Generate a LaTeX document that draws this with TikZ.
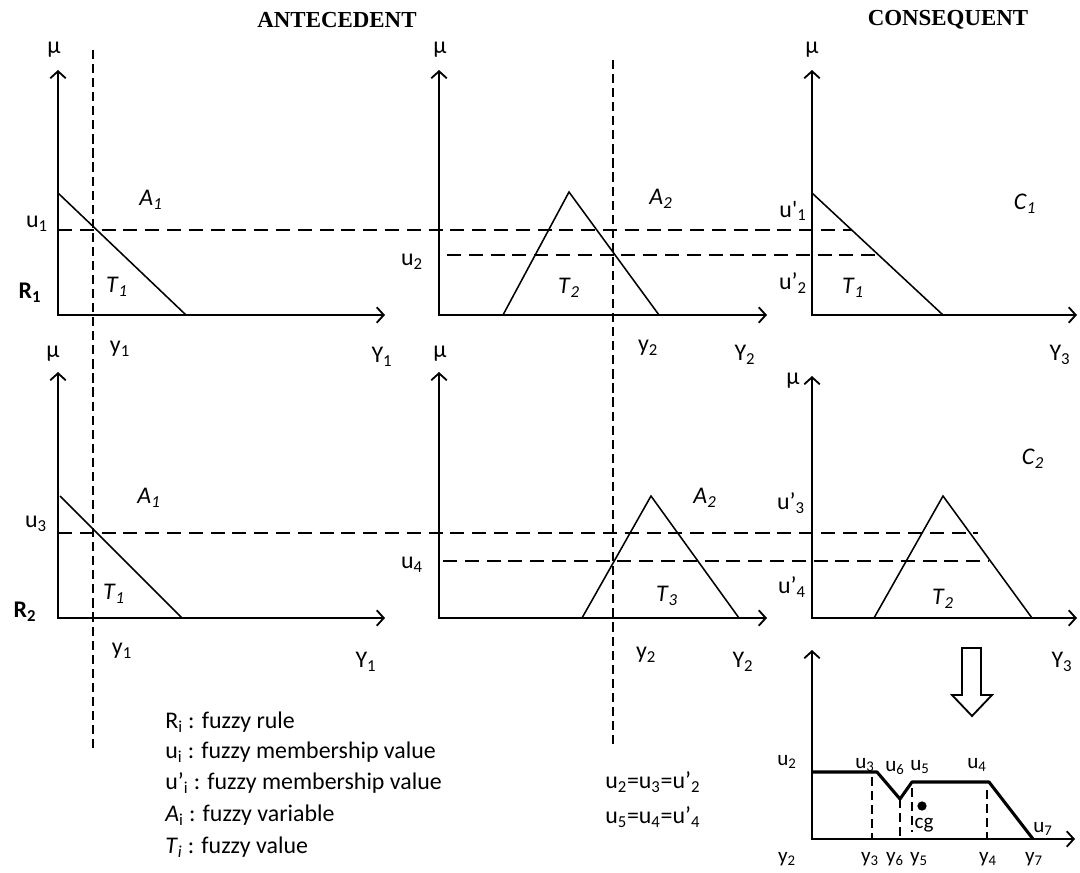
\documentclass[tikz,border=0pt]{standalone}
\usepackage{fontspec}
\setmainfont{Carlito}
\newfontfamily\headfont{Liberation Serif}
\usetikzlibrary{arrows.meta}

\newcommand{\sub}[2]{#1\textsubscript{#2}}

\begin{document}
\begin{tikzpicture}[x=0.025cm, y=-0.025cm, >={Straight Barb[length=5pt,width=11pt]},
    font=\fontsize{17}{20}\selectfont,
    axis/.style={<->, line width=1.3pt},
    memb/.style={line width=1.1pt},
    level/.style={line width=1.3pt, dash pattern=on 10pt off 5.5pt},
    cut/.style={line width=1pt, dash pattern=on 6.5pt off 3.5pt},
    head/.style={font=\headfont\bfseries\fontsize{16.3}{18}\selectfont},
    small/.style={font=\fontsize{15}{17}\selectfont, inner sep=0pt},
    legend/.style={anchor=west, inner sep=0pt}]
    \useasboundingbox (0,0) rectangle (1080,873);

    \node[head] (ante) at (337,20) {ANTECEDENT};
    \node[head] (cons) at (948,20) {CONSEQUENT};

    % rule 1
    \draw[axis] (58,70) -- (58,315) -- (385,315);
    \draw[memb] (58,193) -- (186,315);
    \draw[axis] (439,70) -- (439,315) -- (767,315);
    \draw[memb] (503,315) -- (569,192) -- (659,315);
    \draw[axis] (812,70) -- (812,315) -- (1077,315);
    \draw[memb] (812,193) -- (943,315);

    \node (mu1) at (54,50) {μ};
    \node (u1) at (37,224) {\sub{u}{1}};
    \node (a1) at (151,200) {\textit{A}\textsubscript{\textit{1}}};
    \node (t1) at (117,287) {\textit{T}\textsubscript{\textit{1}}};
    \node (r1) at (30,293) {\textbf{\sub{R}{1}}};
    \node (y1) at (120,349) {\sub{y}{1}};
    \node (bigy1) at (382,357) {\sub{Y}{1}};

    \node (mu2) at (440,50) {μ};
    \node (u2) at (412,262) {\sub{u}{2}};
    \node (a2) at (661,199) {\textit{A}\textsubscript{\textit{2}}};
    \node (t2) at (569,288) {\textit{T}\textsubscript{\textit{2}}};
    \node (y2) at (648,348) {\sub{y}{2}};
    \node (bigy2) at (745,355) {\sub{Y}{2}};

    \node (mu3) at (812,50) {μ};
    \node (c1) at (1025,204) {\textit{C}\textsubscript{\textit{1}}};
    \node (up1) at (793,211) {u\textquotesingle\textsubscript{1}};
    \node (up2) at (793,283) {u’\textsubscript{2}};
    \node (t1c) at (853,288) {\textit{T}\textsubscript{\textit{1}}};
    \node (bigy3) at (1060,355) {\sub{Y}{3}};

    % rule 2
    \draw[axis] (58,372) -- (58,618) -- (385,618);
    \draw[memb] (60,496) -- (182,618);
    \draw[axis] (439,372) -- (439,618) -- (767,618);
    \draw[memb] (582,618) -- (651,496) -- (739,618);
    \draw[axis] (812,376) -- (812,618) -- (1077,618);
    \draw[memb] (874,618) -- (943,496) -- (1032,618);

    \node (mu4) at (53,354) {μ};
    \node (u3) at (36,524) {\sub{u}{3}};
    \node (a1b) at (149,498) {\textit{A}\textsubscript{\textit{1}}};
    \node (t1b) at (114,594) {\textit{T}\textsubscript{\textit{1}}};
    \node (r2) at (25,612) {\textbf{\sub{R}{2}}};
    \node (y1b) at (122,651) {\sub{y}{1}};
    \node (bigy1b) at (366,662) {\sub{Y}{1}};

    \node (mu5) at (440,354) {μ};
    \node (u4) at (412,565) {\sub{u}{4}};
    \node (a2b) at (705,498) {\textit{A}\textsubscript{\textit{2}}};
    \node (t3) at (667,596) {\textit{T}\textsubscript{\textit{3}}};
    \node (y2b) at (646,655) {\sub{y}{2}};
    \node (bigy2b) at (743,662) {\sub{Y}{2}};

    \node (mu6) at (793,381) {μ};
    \node (c2) at (1033,459) {\textit{C}\textsubscript{\textit{2}}};
    \node (up3) at (791,503) {u’\textsubscript{3}};
    \node (up4) at (792,587) {u’\textsubscript{4}};
    \node (t2c) at (943,599) {\textit{T}\textsubscript{\textit{2}}};
    \node (bigy3b) at (1062,662) {\sub{Y}{3}};

    % cut levels
    \draw[level] (58,230) -- (852,230);
    \draw[level] (447,255) -- (878,255);
    \draw[level] (58,533) -- (978,533);
    \draw[level] (443,561) -- (988,561);
    \draw[cut] (93,50) -- (93,748);
    \draw[cut] (613,60) -- (613,748);

    % aggregation
    \draw[line width=1.3pt] (962,648) -- (981,648) -- (981,695) -- (992,695)
        -- (972,716) -- (952,695) -- (962,695) -- cycle;
    \draw[axis] (812,650) -- (812,839) -- (1075,839);
    \draw[line width=2.2pt, line join=round] (812,772) -- (877,772) -- (900,799)
        -- (912,782) -- (989,782) -- (1033,839);
    \draw[cut] (872,777) -- (872,839);
    \draw[cut] (900,799) -- (900,839);
    \draw[cut] (912,788) -- (912,832);
    \draw[cut] (987,790) -- (987,839);
    \fill (922,806) circle (3.3pt);

    \node[small] (ru2) at (787,762) {\sub{u}{2}};
    \node[small] (ru3) at (865,765) {\sub{u}{3}};
    \node[small] (ru6) at (895,768) {\sub{u}{6}};
    \node[small] (ru5) at (920,767) {\sub{u}{5}};
    \node[small] (ru4) at (977,765) {\sub{u}{4}};
    \node[small] (ru7) at (1043,829) {\sub{u}{7}};
    \node[small] (cg) at (924,825) {cg};
    \node[small] (ry2) at (787,859) {\sub{y}{2}};
    \node[small] (ry3) at (870,859) {\sub{y}{3}};
    \node[small] (ry6) at (895,859) {\sub{y}{6}};
    \node[small] (ry5) at (919,859) {\sub{y}{5}};
    \node[small] (ry4) at (988,859) {\sub{y}{4}};
    \node[small] (ry7) at (1034,859) {\sub{y}{7}};

    % legend
    \node[legend] (leg1) at (165,722) {\sub{R}{i} : fuzzy rule};
    \node[legend] (leg2) at (165,752) {\sub{u}{i} : fuzzy membership value};
    \node[legend] (leg3) at (165,783) {u’\textsubscript{i} : fuzzy membership value};
    \node[legend] (leg4) at (165,815) {\textit{A}\textsubscript{i} : fuzzy variable};
    \node[legend] (leg5) at (165,847) {\textit{T}\textsubscript{\textit{i}} : fuzzy value};
    \node[legend] (eq1) at (605,782) {\sub{u}{2}=\sub{u}{3}=u’\textsubscript{2}};
    \node[legend] (eq2) at (605,817) {\sub{u}{5}=\sub{u}{4}=u’\textsubscript{4}};
\end{tikzpicture}
\end{document}
